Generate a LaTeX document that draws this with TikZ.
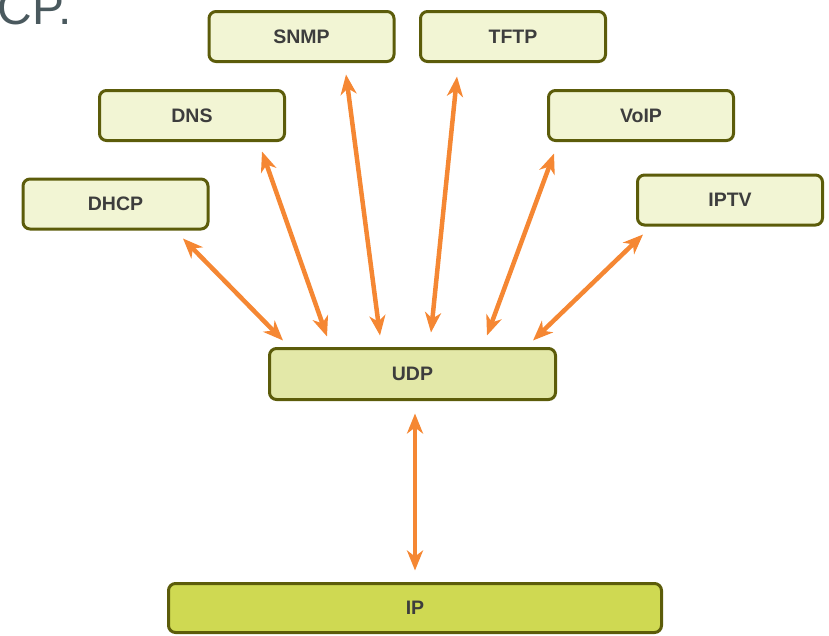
\documentclass[tikz,border=0pt]{standalone}
\usepackage{fontspec}
\setmainfont{Liberation Sans}
\usetikzlibrary{arrows.meta,positioning}
\definecolor{boxolive}{rgb}{0.36, 0.36, 0.04}
\definecolor{paleyellow}{rgb}{0.95, 0.96, 0.83}
\definecolor{limecream}{rgb}{0.89, 0.91, 0.66}
\definecolor{limegreen}{rgb}{0.81, 0.85, 0.32}
\definecolor{linkorange}{rgb}{0.96, 0.53, 0.20}
\definecolor{labelgray}{rgb}{0.24, 0.24, 0.24}
\definecolor{slategray}{rgb}{0.29, 0.35, 0.37}

\begin{document}
\begin{tikzpicture}[x=1pt,y=-1pt,>={Stealth[length=20pt,width=16pt,inset=6pt]}]
            \tikzstyle{proto}=[draw=boxolive, line width=3pt, rounded corners=7pt, fill=paleyellow, minimum width=185pt, minimum height=50pt, text=labelgray, font=\fontsize{19.5}{20}\selectfont\bfseries, inner sep=0pt]
            \tikzstyle{link}=[<->, linkorange, line width=4.5pt]

            % Page frame
            \useasboundingbox (0,0) rectangle (829,635);
            \clip (0,0) rectangle (829,635);

            % Tail of the slide title
            \node[anchor=base east, text=slategray, font=\fontsize{48}{48}\selectfont, inner sep=0pt] (title) at (72,24) {CP.};

            % Application protocols
            \node[proto] (snmp) at (301.5,36.5) {SNMP};
            \node[proto] (tftp) at (513,36.5) {TFTP};
            \node[proto] (dns) at (192,115.5) {DNS};
            \node[proto] (voip) at (641,115.5) {VoIP};
            \node[proto] (dhcp) at (115.5,204) {DHCP};
            \node[proto] (iptv) at (730,200) {IPTV};

            % Transport and network layers
            \node[proto, fill=limecream, minimum width=286pt, minimum height=51pt] (udp) at (412.5,374) {UDP};
            \node[proto, fill=limegreen, minimum width=493pt, minimum height=49pt] (ip) at (415,608) {IP};

            % Arrows into UDP
            \draw[link] ([shift={(67.5,8)}]dhcp.south) -- ([shift={(-129.5,-6.5)}]udp.north);
            \draw[link] ([shift={(70,9.5)}]dns.south) -- ([shift={(-85.5,-10.5)}]udp.north);
            \draw[link] ([shift={(44.5,11.5)}]snmp.south) -- ([shift={(-32.5,-11.5)}]udp.north);
            \draw[link] ([shift={(-56,13.5)}]tftp.south) -- ([shift={(18.5,-14.5)}]udp.north);
            \draw[link] ([shift={(-87,11.5)}]voip.south) -- ([shift={(74.5,-11.5)}]udp.north);
            \draw[link] ([shift={(-87,8)}]iptv.south) -- ([shift={(120.5,-6.5)}]udp.north);

            % UDP over IP
            \draw[link] ([shift={(2.5,12.5)}]udp.south) -- ([shift={(0,-11.5)}]ip.north);
\end{tikzpicture}
\end{document}
